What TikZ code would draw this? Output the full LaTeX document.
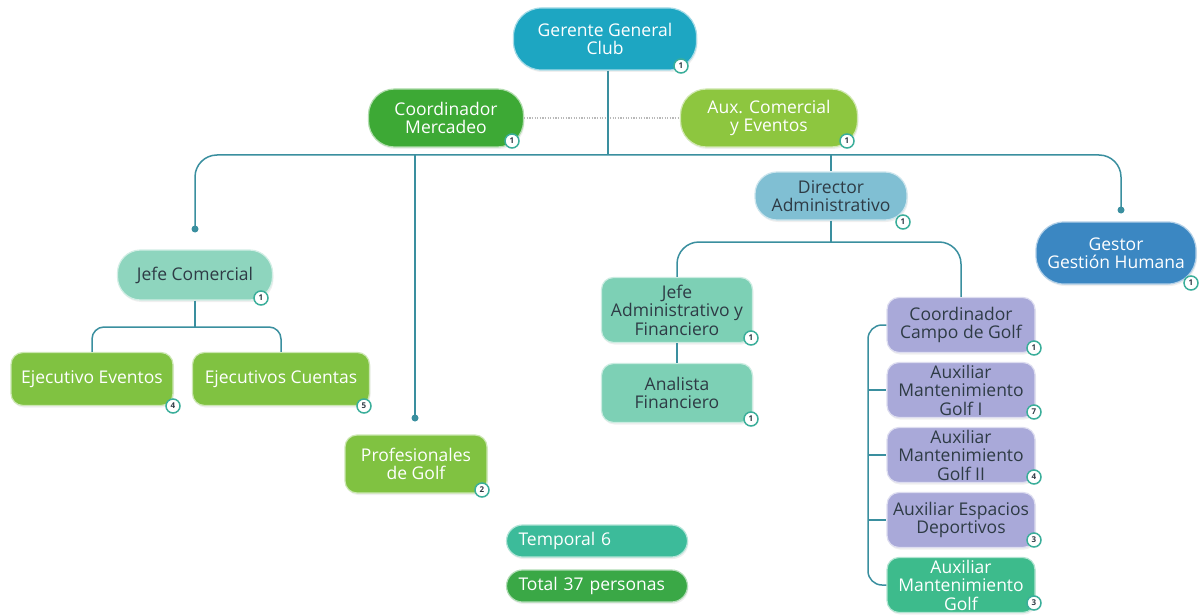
\documentclass[tikz,border=0pt]{standalone}
\usepackage{fontspec}
\setmainfont{Open Sans}
\usetikzlibrary{shadows}
\definecolor{cGer}{HTML}{1DA6C2}
\definecolor{cCM}{HTML}{3DA935}
\definecolor{cACE}{HTML}{8DC63F}
\definecolor{cDir}{HTML}{80BFD3}
\definecolor{cGH}{HTML}{3B87C2}
\definecolor{cJC}{HTML}{8ED5BE}
\definecolor{cEj}{HTML}{80C241}
\definecolor{cJA}{HTML}{7DD0B5}
\definecolor{cLav}{HTML}{A9A9D9}
\definecolor{cAMG}{HTML}{3DBB8C}
\definecolor{cTmp}{HTML}{3CBB9A}
\definecolor{cTot}{HTML}{3AA846}
\definecolor{cLine}{HTML}{3A8F9F}
\definecolor{cDark}{HTML}{2E3B45}
\definecolor{cBadge}{HTML}{3AAE9A}
\begin{document}
\begin{tikzpicture}[x=1pt,y=-1pt,
  orgbox/.style={fill=#1, draw=#1!40!white, line width=1.2pt, align=center,
    font=\fontsize{17.5}{18.5}\selectfont, inner sep=2pt,
    drop shadow={shadow xshift=1pt, shadow yshift=-2pt, opacity=0.12}},
  wtxt/.style={text=white},
  dtxt/.style={text=cDark},
  badge/.style={circle, fill=white, draw=cBadge, line width=1.5pt, minimum size=14pt,
    inner sep=0pt, font=\fontsize{8}{8}\selectfont\bfseries, text=cDark},
  conn/.style={draw=cLine, line width=1.5pt},
  jdot/.style={circle, fill=cLine, minimum size=7pt, inner sep=0pt},
  dotline/.style={draw=gray!55, line width=1.4pt, dash pattern=on 1.2pt off 1.4pt}
]
\useasboundingbox[fill=white] (0,0) rectangle (1202,615);

% nodes
\node[orgbox=cGer, wtxt, minimum width=183pt, minimum height=62pt, rounded corners=28pt] (ger) at (605,39) {Gerente General\\Club};
\node[orgbox=cCM, wtxt, minimum width=155pt, minimum height=58pt, rounded corners=26pt] (cm) at (446,118) {Coordinador\\Mercadeo};
\node[orgbox=cACE, wtxt, minimum width=177pt, minimum height=58pt, rounded corners=26pt] (ace) at (769,118) {Aux. Comercial\\y Eventos};
\node[orgbox=cDir, dtxt, minimum width=152pt, minimum height=48pt, rounded corners=22pt] (dir) at (831,196) {Director\\Administrativo};
\node[orgbox=cGH, wtxt, minimum width=160pt, minimum height=62pt, rounded corners=28pt] (gh) at (1116,253) {Gestor\\Gestión Humana};
\node[orgbox=cJC, dtxt, minimum width=155pt, minimum height=50pt, rounded corners=23pt] (jc) at (195,275) {Jefe Comercial};
\node[orgbox=cEj, wtxt, minimum width=162pt, minimum height=53pt, rounded corners=12pt] (ee) at (92,379) {Ejecutivo Eventos};
\node[orgbox=cEj, wtxt, minimum width=177pt, minimum height=53pt, rounded corners=12pt] (ec) at (281,379) {Ejecutivos Cuentas};
\node[orgbox=cEj, wtxt, minimum width=142pt, minimum height=58pt, rounded corners=12pt] (pg) at (416,464) {Profesionales\\de Golf};
\node[orgbox=cJA, dtxt, minimum width=151pt, minimum height=65pt, rounded corners=12pt] (ja) at (677,310) {Jefe\\Administrativo y\\Financiero};
\node[orgbox=cJA, dtxt, minimum width=151pt, minimum height=59pt, rounded corners=12pt] (af) at (677,393) {Analista\\Financiero};
\node[orgbox=cLav, dtxt, minimum width=148pt, minimum height=55pt, rounded corners=12pt] (ccg) at (961,325) {Coordinador\\Campo de Golf};
\node[orgbox=cLav, dtxt, minimum width=148pt, minimum height=55pt, rounded corners=12pt] (amga) at (961,390) {Auxiliar\\Mantenimiento\\Golf I};
\node[orgbox=cLav, dtxt, minimum width=148pt, minimum height=55pt, rounded corners=12pt] (amgb) at (961,455) {Auxiliar\\Mantenimiento\\Golf II};
\node[orgbox=cLav, dtxt, minimum width=148pt, minimum height=55pt, rounded corners=12pt] (aed) at (961,520) {Auxiliar Espacios\\Deportivos};
\node[orgbox=cAMG, wtxt, minimum width=148pt, minimum height=55pt, rounded corners=12pt] (amg) at (961,585) {Auxiliar\\Mantenimiento\\Golf};
\node[orgbox=cTmp, wtxt, text width=157pt, align=left, minimum height=32pt, rounded corners=16pt, inner xsep=12pt] (tmp) at (597,541) {Temporal 6};
\node[orgbox=cTot, wtxt, text width=157pt, align=left, minimum height=32pt, rounded corners=16pt, inner xsep=12pt] (tot) at (597,586) {Total 37 personas};

% badges
\node[badge] (bger) at (681,66) {1};
\node[badge] (bcm) at (512,141) {1};
\node[badge] (bace) at (847,141) {1};
\node[badge] (bdir) at (903,222) {1};
\node[badge] (bgh) at (1191,283) {1};
\node[badge] (bjc) at (261,298) {1};
\node[badge] (bee) at (173,406) {4};
\node[badge] (bec) at (364,406) {5};
\node[badge] (bpg) at (482,490) {2};
\node[badge] (bja) at (751,338) {1};
\node[badge] (baf) at (751,419) {1};
\node[badge] (bccg) at (1034,348) {1};
\node[badge] (bamga) at (1034,412) {7};
\node[badge] (bamgb) at (1034,477) {4};
\node[badge] (baed) at (1034,540) {3};
\node[badge] (bamg) at (1034,603) {3};

% junction dots and coordinates
\node[jdot] (djc) at (195,229) {};
\node[jdot] (dpg) at (415,418) {};
\node[jdot] (dgh) at (1121,210) {};
\coordinate (barmid) at (608,155);
\coordinate (jcbar) at (195,327);
\coordinate (dirbar) at (831,242);
\coordinate (brk) at (868,585);

% connectors
\draw[dotline] (cm.east) -- (ace.west);
\draw[conn] (ger.south -| barmid) -- (barmid);
\draw[conn, rounded corners=22pt] (djc.center) |- (barmid) -| (dgh.center);
\draw[conn] (dpg.center |- barmid) -- (dpg.center);
\draw[conn] (dir.north |- barmid) -- (dir.north);
\draw[conn] (jc.south) -- (jcbar);
\draw[conn, rounded corners=12pt] (ee.north) |- (jcbar) -| (ec.north);
\draw[conn] (dir.south) -- (dirbar);
\draw[conn, rounded corners=22pt] (ja.north) |- (dirbar) -| (ccg.north);
\draw[conn] (ja.south) -- (af.north);
\draw[conn, rounded corners=14pt] (ccg.west) -| (brk) -- (amg.west);
\draw[conn] (amga.west -| brk) -- (amga.west);
\draw[conn] (amgb.west -| brk) -- (amgb.west);
\draw[conn] (aed.west -| brk) -- (aed.west);
\end{tikzpicture}
\end{document}
